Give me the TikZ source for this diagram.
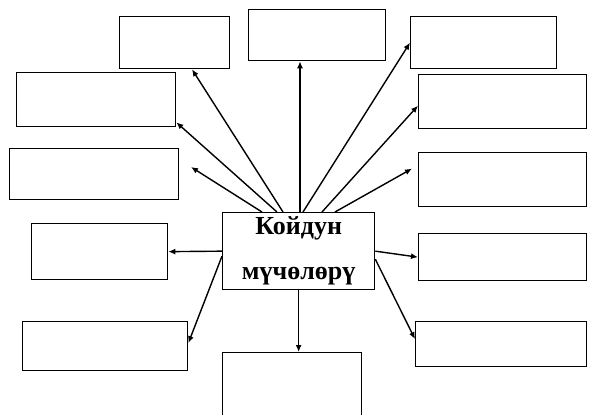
\documentclass[tikz,border=0pt]{standalone}
\usepackage{fontspec}
\setmainfont{Liberation Serif}
\usetikzlibrary{arrows.meta,calc}
\begin{document}
\begin{tikzpicture}[x=1pt,y=-1pt,
  box/.style={draw,line width=1.3pt,rectangle,inner sep=0pt,anchor=north west},
  conn/.style={line width=1.4pt,-{Latex[length=7pt,width=6pt]}}]
\useasboundingbox (0,0) rectangle (592,415);
\clip (0,0) rectangle (592,415);
% boxes
\node[box,minimum width=110pt,minimum height=52pt] (a) at (119,16) {};
\node[box,minimum width=137pt,minimum height=51pt] (b) at (248,9) {};
\node[box,minimum width=146pt,minimum height=52pt] (cc) at (410,16) {};
\node[box,minimum width=159pt,minimum height=54pt] (d) at (16,72) {};
\node[box,minimum width=168pt,minimum height=54pt] (e) at (418,74) {};
\node[box,minimum width=169pt,minimum height=51pt] (f) at (9,148) {};
\node[box,minimum width=168pt,minimum height=54pt] (g) at (418,152) {};
\node[box,minimum width=136pt,minimum height=56pt] (h) at (31,223) {};
\node[box,minimum width=168pt,minimum height=47pt] (j) at (418,233) {};
\node[box,minimum width=165pt,minimum height=49pt] (k) at (22,321) {};
\node[box,minimum width=171pt,minimum height=45pt] (l) at (415,321) {};
\node[box,minimum width=139pt,minimum height=80pt] (m) at (222,352) {};
% centre
\node[box,minimum width=152pt,minimum height=77pt,align=center,
  font=\bfseries\fontsize{26}{45}\selectfont] (c) at (222,212) {Койдун\\мүчөлөрү};
\coordinate (free) at (191,167);
% connectors
\draw[conn] ([xshift=40pt]c.north west) -- (free);
\draw[conn] ([xshift=55pt]c.north west) -- ([yshift=5pt]d.south east);
\draw[conn] ([xshift=61pt]c.north west) -- ([xshift=73pt]a.south west);
\draw[conn] ([xshift=78pt]c.north west) -- ([xshift=52pt]b.south west);
\draw[conn] ([xshift=81pt]c.north west) -- (cc.west);
\draw[conn] ([xshift=100pt]c.north west) -- ([yshift=-4pt]e.west);
\draw[conn] ([xshift=113pt]c.north west) -- ([xshift=-6pt,yshift=11pt]g.west);
\draw[conn] (c.west) -- (h.east);
\draw[conn] ([yshift=-5pt]c.west) -- ([yshift=3pt]k.east);
\draw[conn] (c.south) -- (c.south |- m.north);
\draw[conn] (c.east) -- (j.west);
\draw[conn] ([yshift=-8pt]c.east) -- ([yshift=5pt]l.west);
\end{tikzpicture}
\end{document}
